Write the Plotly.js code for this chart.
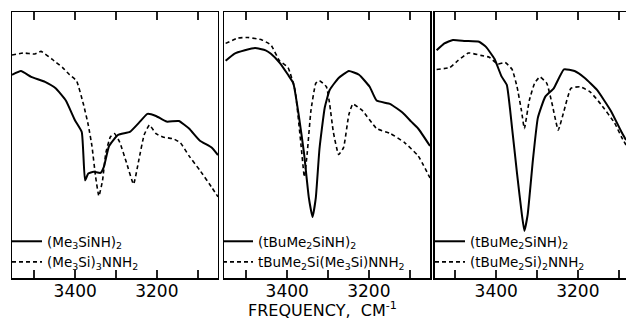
<!DOCTYPE html>
<html>
<head>
<meta charset="utf-8">
<script src="https://cdn.plot.ly/plotly-3.0.1.min.js"></script>
<style>html,body{margin:0;padding:0;background:#fff;}#chart{width:626px;height:322px;}</style>
</head>
<body>
<div id="chart"></div>
<script>
// Panel 1: (Me3SiNH)2 vs (Me3Si)3NNH2
const p1SolidWn = [3555,3533,3508,3474,3448,3423,3401,3384,3376,3368,3355,3338,3330,3317,3295,3266,3244,3223,3202,3176,3146,3121,3095,3065,3050];
const p1SolidT  = [76.4,77.8,75.6,73.7,71.3,66.7,59.4,54.9,36.7,39.3,39.9,39.5,41.7,49.6,53.8,54.9,58.3,61.7,60.9,58.8,59.0,56.2,51.7,49.0,46.2];
const p1DashWn  = [3555,3526,3499,3484,3457,3431,3414,3397,3380,3368,3359,3350,3342,3333,3325,3314,3304,3291,3274,3257,3244,3231,3218,3202,3185,3159,3142,3121,3095,3065,3050];
const p1DashT   = [83.8,84.6,84.2,85.2,82.3,79.1,76.4,74.2,65.4,57.5,49.6,38.0,30.8,36.7,47.0,53.0,54.3,51.1,43.2,35.3,44.4,53.8,57.5,54.3,53.0,52.3,50.8,45.9,40.6,34.0,30.5];

// Panel 2: (tBuMe2SiNH)2 vs tBuMe2Si(Me3Si)NNH2
const p2SolidWn = [3551,3530,3504,3479,3453,3440,3419,3398,3385,3372,3359,3347,3338,3330,3321,3308,3296,3274,3249,3224,3198,3181,3147,3117,3096,3079,3050];
const p2SolidT  = [81.7,84.3,85.6,86.5,85.6,84.3,81.0,76.4,73.2,61.4,47.1,30.1,22.9,30.1,48.5,64.1,70.7,75.2,77.8,76.4,71.9,66.7,65.4,62.1,58.8,56.2,49.6];
const p2DashWn  = [3551,3521,3496,3462,3440,3419,3398,3381,3366,3358,3351,3342,3330,3321,3304,3296,3287,3274,3262,3249,3239,3215,3181,3147,3113,3079,3050];
const p2DashT   = [88.2,90.2,90.4,89.5,87.6,81.7,79.1,70.7,49.6,38.0,47.0,62.8,73.2,74.2,71.9,65.4,54.9,46.4,49.0,61.4,65.4,62.8,56.2,54.3,51.0,45.9,37.6];

// Panel 3: (tBuMe2SiNH)2 vs (tBuMe2Si)2NNH2
const p3SolidWn = [3546,3527,3506,3476,3442,3425,3404,3387,3374,3361,3349,3337,3331,3323,3310,3298,3280,3259,3234,3208,3183,3153,3119,3093,3082];
const p3SolidT  = [85.6,88.2,89.5,89.1,88.8,86.9,82.3,75.8,72.6,56.2,39.3,23.7,17.7,23.7,44.5,60.2,68.1,71.3,78.4,77.8,75.2,70.7,62.8,54.9,51.9];
const p3DashWn  = [3546,3514,3494,3468,3438,3417,3396,3378,3361,3349,3338,3331,3319,3306,3293,3276,3263,3248,3234,3217,3195,3170,3144,3110,3093,3082];
const p3DashT   = [78.4,79.1,81.7,84.6,83.7,83.0,80.4,81.0,78.4,71.9,62.8,56.2,66.7,73.2,75.6,73.2,65.4,55.6,62.8,71.3,71.9,70.0,65.4,58.3,53.0,50.0];

const tickVals = [3500,3400,3300,3200,3100];
const tickText = ['','3400','','3200',''];
const names = [
  ['(Me<sub>3</sub>SiNH)<sub>2</sub>', '(Me<sub>3</sub>Si)<sub>3</sub>NNH<sub>2</sub>'],
  ['(tBuMe<sub>2</sub>SiNH)<sub>2</sub>', 'tBuMe<sub>2</sub>Si(Me<sub>3</sub>Si)NNH<sub>2</sub>'],
  ['(tBuMe<sub>2</sub>SiNH)<sub>2</sub>', '(tBuMe<sub>2</sub>Si)<sub>2</sub>NNH<sub>2</sub>']
];

const solidLine = {color:'#000', width:2, dash:'solid', shape:'spline', smoothing:0.4};
const dashLine  = {color:'#000', width:1.6, dash:'4px,3px', shape:'spline', smoothing:0.4};

const sets = [
  [p1SolidWn,p1SolidT,p1DashWn,p1DashT],
  [p2SolidWn,p2SolidT,p2DashWn,p2DashT],
  [p3SolidWn,p3SolidT,p3DashWn,p3DashT]
];
const data = [];
sets.forEach((s,i)=>{
  const sfx = i===0 ? '' : String(i+1);
  const leg = i===0 ? 'legend' : 'legend'+(i+1);
  data.push({x:s[0], y:s[1], type:'scatter', mode:'lines', line:solidLine, name:names[i][0], xaxis:'x'+sfx, yaxis:'y'+sfx, legend:leg});
  data.push({x:s[2], y:s[3], type:'scatter', mode:'lines', line:dashLine, name:names[i][1], xaxis:'x'+sfx, yaxis:'y'+sfx, legend:leg});
});

const fam = 'DejaVu Sans, sans-serif';
function xax(domain, range, anchor){
  return {domain:domain, range:range, anchor:anchor, tickmode:'array', tickvals:tickVals, ticktext:tickText,
    ticks:'inside', ticklen:8, tickwidth:2, tickcolor:'#222222', showline:true, linecolor:'#000', linewidth:1.5,
    mirror:'allticks', showgrid:false, zeroline:false, ticklabelstandoff:-3,
    tickfont:{family:fam, size:17, color:'#000'}};
}
function yax(anchor, mirror){
  return {domain:[0,1], range:[0,100], anchor:anchor, showline:true, linecolor:'#000', linewidth:1.5, mirror:mirror,
    showticklabels:false, ticks:'', showgrid:false, zeroline:false};
}
function legendAt(px){
  return {x:(px-12)/614, y:0.0, xanchor:'left', yanchor:'bottom', bgcolor:'rgba(0,0,0,0)', borderwidth:0,
    font:{family:fam, size:13.5, color:'#000'}, itemwidth:30, tracegroupgap:0};
}

const layout = {
  width:626, height:322,
  margin:{l:12, r:0, t:12, b:44},
  paper_bgcolor:'#fff', plot_bgcolor:'#fff',
  showlegend:true,
  xaxis: xax([0, 0.3355], [3555, 3050], 'y'),
  yaxis: yax('x', true),
  xaxis2: xax([0.3453, 0.6808], [3555, 3050], 'y2'),
  yaxis2: yax('x2', true),
  xaxis3: xax([0.6889, 1], [3550, 3082], 'y3'),
  yaxis3: yax('x3', false),
  legend: legendAt(7),
  legend2: legendAt(218),
  legend3: legendAt(430),
  annotations:[{text:'FREQUENCY,  CM<sup>-1</sup>', xref:'paper', yref:'paper', x:0.505, y:-0.12,
    xanchor:'center', yanchor:'middle', showarrow:false, font:{family:fam, size:16, color:'#000'}}]
};

Plotly.newPlot('chart', data, layout, {displayModeBar:false, staticPlot:true});
</script>
</body>
</html>
